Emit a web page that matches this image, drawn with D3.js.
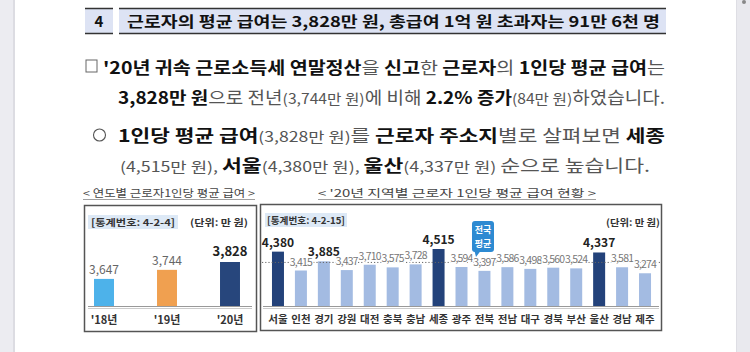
<!DOCTYPE html>
<html><head><meta charset="utf-8">
<script src="https://cdn.jsdelivr.net/npm/d3@7"></script>
<style>
html,body{margin:0;padding:0;background:#fff;}
svg{display:block;font-family:"Noto Sans CJK KR","Noto Sans",sans-serif;}
</style></head>
<body><svg id="c" width="750" height="352"></svg>
<script>
// ---- data ----
const years = ["'18년", "'19년", "'20년"];
const yearValues = [3647, 3744, 3828];
const yearColors = ["#4db2ea", "#f0a050", "#27467c"];
const regions = ["서울","인천","경기","강원","대전","충북","충남","세종","광주","전북","전남","대구","경북","부산","울산","경남","제주"];
const regionValues = [4380,3415,3885,3437,3710,3575,3728,4515,3594,3397,3586,3498,3560,3524,4337,3581,3274];
const boldRegions = ["서울","경기","세종","울산"];
const darkRegions = ["서울","세종","울산"];
const nationalAvg = 3828;

const svg = d3.select("#c");
const fmt = d3.format(",");

// page background strips
svg.append("rect").attr("x",0).attr("y",0).attr("width",750).attr("height",352).attr("fill","#fff");
svg.append("rect").attr("x",0).attr("y",0).attr("width",14).attr("height",352).attr("fill","#ececf1");
svg.append("rect").attr("x",13).attr("y",0).attr("width",2).attr("height",352).attr("fill","#dcdce2");
svg.append("rect").attr("x",736).attr("y",0).attr("width",14).attr("height",352).attr("fill","#e9e9ee");
svg.append("rect").attr("x",736).attr("y",0).attr("width",1).attr("height",352).attr("fill","#dedee4");
svg.append("circle").attr("cx",744).attr("cy",2).attr("r",2).attr("fill","#888");

// header boxes
function hbox(x0,x1){
  svg.append("rect").attr("x",x0).attr("y",8).attr("width",x1-x0).attr("height",26).attr("fill","#dde3f4");
  svg.append("line").attr("x1",x0).attr("x2",x1).attr("y1",8.5).attr("y2",8.5).attr("stroke","#333").attr("stroke-width",1.5);
  svg.append("line").attr("x1",x0).attr("x2",x1).attr("y1",33.5).attr("y2",33.5).attr("stroke","#333").attr("stroke-width",1.5);
}
hbox(85,113); hbox(119,666);
svg.append("text").attr("x",99).attr("y",26.5).attr("text-anchor","middle").attr("font-size",15).attr("font-weight",700).attr("fill","#111").text("4");
svg.append("text").attr("x",127).attr("y",26.5).attr("font-size",15).attr("font-weight",700).attr("fill","#111")
  .attr("textLength",533).attr("lengthAdjust","spacingAndGlyphs")
  .text("근로자의 평균 급여는 3,828만 원, 총급여 1억 원 초과자는 91만 6천 명");

// paragraph lines
function line(x, y, len, parts){
  const t = svg.append("text").attr("x",x).attr("y",y).attr("font-size",17)
    .attr("textLength",len).attr("lengthAdjust","spacingAndGlyphs");
  parts.forEach(p=>{
    t.append("tspan").text(p[0])
      .attr("font-weight",p[1]==="b"?700:400)
      .attr("fill",p[1]==="b"?"#111":"#555")
      .attr("font-size",p[1]==="s"?14:17);
  });
}
svg.append("rect").attr("x",86).attr("y",60).attr("width",11).attr("height",12).attr("fill","none").attr("stroke","#666").attr("stroke-width",1);
line(103,74,562,[["'20년 귀속 근로소득세 연말정산","b"],["을 ","g"],["신고","b"],["한 ","g"],["근로자","b"],["의 ","g"],["1인당 평균 급여","b"],["는","g"]]);
line(118,104,547,[["3,828만 원","b"],["으로 전년","g"],["(3,744만 원)","s"],["에 비해 ","g"],["2.2% 증가","b"],["(84만 원)","s"],["하였습니다.","g"]]);
svg.append("circle").attr("cx",99.5).attr("cy",135).attr("r",6).attr("fill","none").attr("stroke","#555").attr("stroke-width",1.1);
line(118,142,547,[["1인당 평균 급여","b"],["(3,828만 원)","s"],["를 ","g"],["근로자 주소지","b"],["별로 살펴보면 ","g"],["세종","b"]]);
line(120,172,530,[["(4,515만 원), ","s"],["서울","b"],["(4,380만 원), ","s"],["울산","b"],["(4,337만 원) ","s"],["순으로 높습니다.","g"]]);

// captions
function caption(x0,x1,txt){
  svg.append("text").attr("x",x0).attr("y",197).attr("font-size",10.5).attr("fill","#444")
    .attr("textLength",x1-x0).attr("lengthAdjust","spacingAndGlyphs").text(txt);
  svg.append("line").attr("x1",x0).attr("x2",x1).attr("y1",199.5).attr("y2",199.5).attr("stroke","#888").attr("stroke-width",0.8);
}
caption(83,255,"< 연도별 근로자1인당 평균 급여 >");
caption(318,596,"< '20년 지역별 근로자 1인당 평균 급여 현황 >");

// ---------- left chart ----------
svg.append("rect").attr("x",84.5).attr("y",205.5).attr("width",172).attr("height",126).attr("fill","#fff").attr("stroke","#555").attr("stroke-width",1.5);
svg.append("rect").attr("x",88).attr("y",215).attr("width",90).attr("height",14).attr("fill","#dde9f6");
svg.append("text").attr("x",91).attr("y",226).attr("font-size",9.5).attr("font-weight",700).attr("fill","#333").attr("textLength",84).attr("lengthAdjust","spacingAndGlyphs").text("[통계번호: 4-2-4]");
svg.append("text").attr("x",190).attr("y",226).attr("font-size",9.5).attr("font-weight",700).attr("fill","#333").attr("textLength",58).attr("lengthAdjust","spacingAndGlyphs").text("(단위: 만 원)");

const pL = 0.683;
const xL = d3.scaleBand().domain(years).range([72.5,261.5]).paddingInner(pL).paddingOuter(pL/2);
const yL = d3.scaleLinear().domain([3357,3828]).range([306,262]);
const gL = svg.append("g");
gL.selectAll("rect.bar").data(years).join("rect").attr("class","bar")
  .attr("x",d=>xL(d)).attr("width",xL.bandwidth())
  .attr("y",(d,i)=>yL(yearValues[i])).attr("height",(d,i)=>yL.range()[0]-yL(yearValues[i]))
  .attr("fill",(d,i)=>yearColors[i]);
gL.selectAll("text.val").data(years).join("text").attr("class","val")
  .attr("x",d=>xL(d)+xL.bandwidth()/2).attr("y",(d,i)=>yL(yearValues[i])-(i===2?6:5))
  .attr("text-anchor","middle")
  .attr("font-size",(d,i)=>i===2?13:12).attr("font-weight",(d,i)=>i===2?700:400)
  .attr("fill",(d,i)=>i===2?"#222":"#666")
  .text((d,i)=>fmt(yearValues[i]));
const axL = d3.axisBottom(xL).tickSize(0).tickPadding(10);
const axLg = gL.append("g").attr("transform","translate(0,306)").call(axL);
axLg.select(".domain").remove();
axLg.selectAll("text").attr("font-size",11).attr("font-weight",700).attr("fill","#333").attr("font-family","'Noto Sans CJK KR',sans-serif");
gL.append("line").attr("x1",88).attr("x2",252).attr("y1",306.5).attr("y2",306.5).attr("stroke","#999").attr("stroke-width",1);
gL.append("line").attr("x1",88).attr("x2",252).attr("y1",308.5).attr("y2",308.5).attr("stroke","#ccc").attr("stroke-width",1);

// ---------- right chart ----------
svg.append("rect").attr("x",260.5).attr("y",204.5).attr("width",401).attr("height",126).attr("fill","#fff").attr("stroke","#555").attr("stroke-width",1.5);
svg.append("rect").attr("x",265).attr("y",213).attr("width",82).attr("height",14).attr("fill","#dde9f6");
svg.append("text").attr("x",267).attr("y",224).attr("font-size",9.5).attr("font-weight",700).attr("fill","#333").attr("textLength",78).attr("lengthAdjust","spacingAndGlyphs").text("[통계번호: 4-2-15]");
svg.append("text").attr("x",606).attr("y",226).attr("font-size",9.5).attr("font-weight",700).attr("fill","#333").attr("textLength",54).attr("lengthAdjust","spacingAndGlyphs").text("(단위: 만 원)");

const pR = 0.477;
const xR = d3.scaleBand().domain(regions).range([266.5,656.5]).paddingInner(pR).paddingOuter(pR/2);
const yR = d3.scaleLinear().domain([1600,4515]).range([306,249]);
const gR = svg.append("g");
gR.selectAll("rect.bar").data(regions).join("rect").attr("class","bar")
  .attr("x",d=>xR(d)).attr("width",xR.bandwidth())
  .attr("y",(d,i)=>yR(regionValues[i])).attr("height",(d,i)=>yR.range()[0]-yR(regionValues[i]))
  .attr("fill",d=>darkRegions.includes(d)?"#23427a":"#a3bbe2");
// average dotted line
gR.append("line").attr("x1",262).attr("x2",660).attr("y1",yR(nationalAvg)).attr("y2",yR(nationalAvg))
  .attr("stroke","#666").attr("stroke-width",1).attr("stroke-dasharray","1.2,2");
gR.selectAll("text.val").data(regions).join("text").attr("class","val")
  .attr("x",d=>xR(d)+xR.bandwidth()/2).attr("y",(d,i)=>yR(regionValues[i])-5)
  .attr("text-anchor","middle")
  .attr("font-size",d=>boldRegions.includes(d)?12:10.5)
  .attr("font-weight",d=>boldRegions.includes(d)?700:400)
  .attr("letter-spacing",d=>boldRegions.includes(d)?0:-0.8)
  .attr("fill",d=>boldRegions.includes(d)?"#222":"#777")
  .attr("stroke","#fff").attr("stroke-width",d=>boldRegions.includes(d)?0:2.5).attr("paint-order","stroke")
  .text((d,i)=>fmt(regionValues[i]));
const axR = d3.axisBottom(xR).tickSize(0).tickPadding(10);
const axRg = gR.append("g").attr("transform","translate(0,306)").call(axR);
axRg.select(".domain").remove();
axRg.selectAll("text").attr("font-size",10.5).attr("font-weight",700).attr("fill","#333").attr("font-family","'Noto Sans CJK KR',sans-serif");
gR.append("line").attr("x1",263).attr("x2",659).attr("y1",306.5).attr("y2",306.5).attr("stroke","#999").attr("stroke-width",1);
gR.append("line").attr("x1",263).attr("x2",659).attr("y1",308.5).attr("y2",308.5).attr("stroke","#ccc").attr("stroke-width",1);

// national average badge
const bx = 472, by = 221;
gR.append("path").attr("d",`M${bx+2},${by+28} L${bx+4},${by+36} L${bx+10},${by+28} Z`).attr("fill","#2d8ad2");
gR.append("rect").attr("x",bx).attr("y",by).attr("width",22).attr("height",31).attr("rx",3).attr("fill","#2d8ad2");
gR.append("text").attr("x",bx+11).attr("y",by+12).attr("text-anchor","middle").attr("font-size",9).attr("font-weight",700).attr("fill","#fff").text("전국");
gR.append("text").attr("x",bx+11).attr("y",by+26).attr("text-anchor","middle").attr("font-size",9).attr("font-weight",700).attr("fill","#fff").text("평균");
</script></body></html>
